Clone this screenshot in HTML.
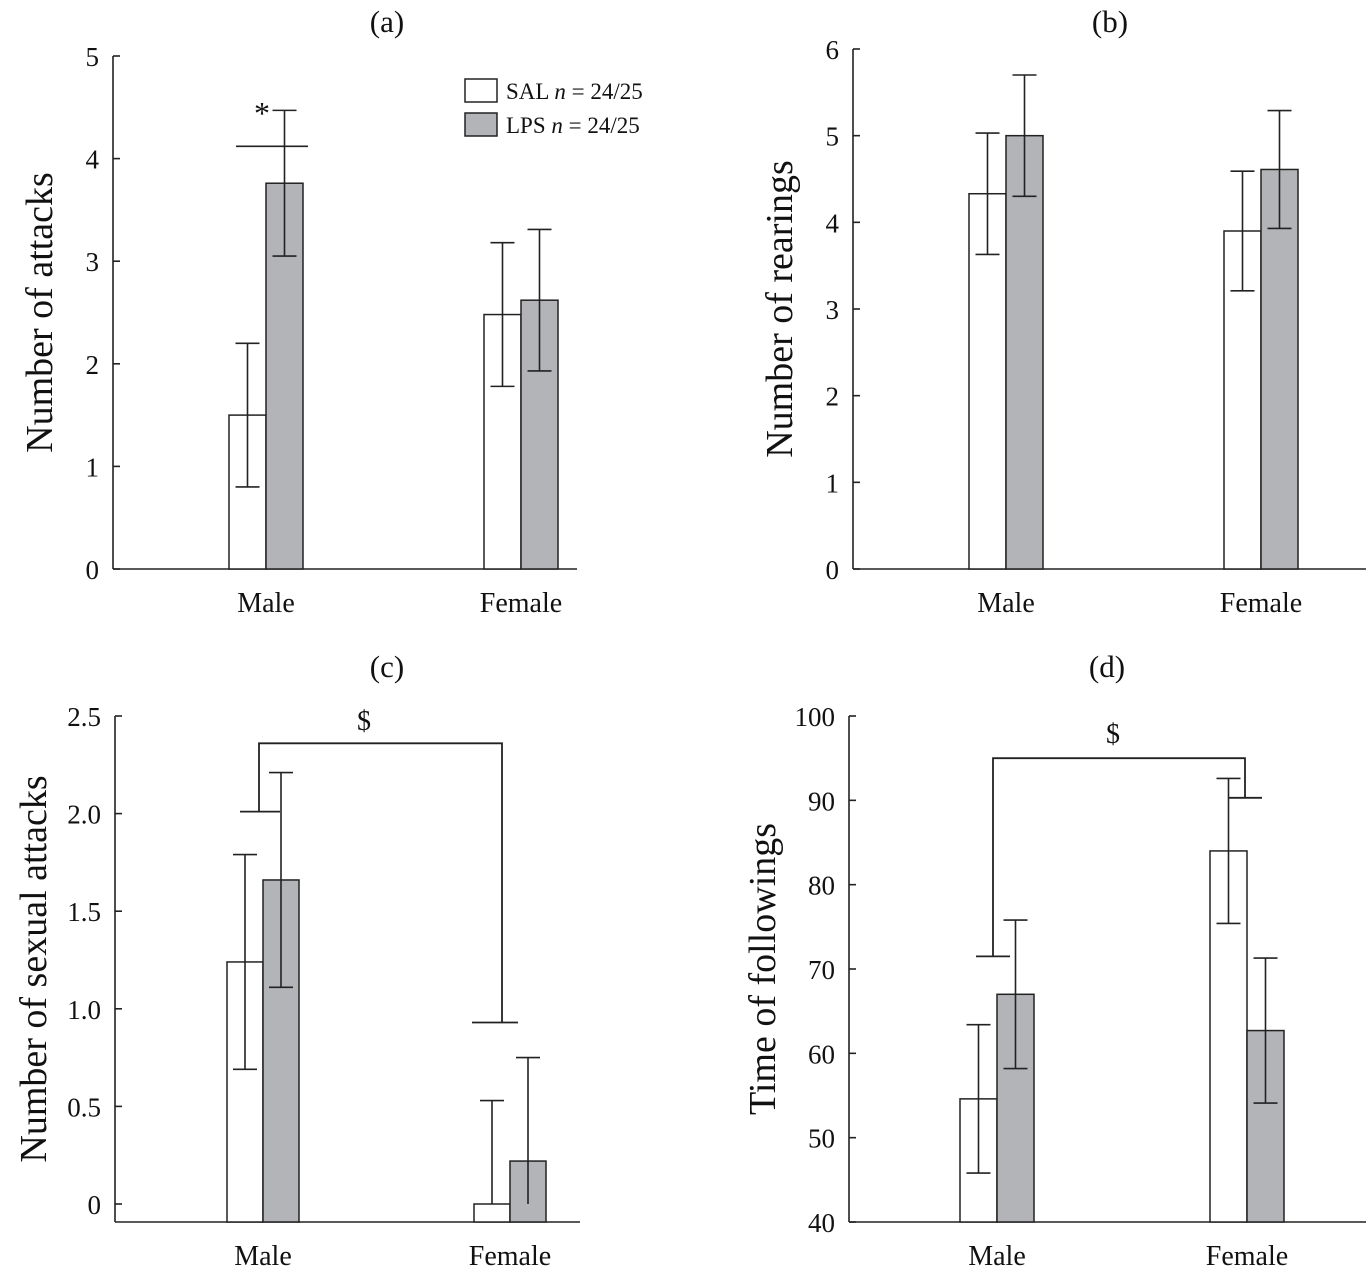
<!DOCTYPE html>
<html><head><meta charset="utf-8"><style>
body{margin:0;background:#fff;}
svg{display:block;font-family:"Liberation Serif",serif;}
</style></head><body>
<svg id="c" width="1366" height="1276" viewBox="0 0 1366 1276"></svg>
<script>
const categories=["Male","Female"];
const aSal=[1.5,2.48], aSalErr=[0.7,0.7], aLps=[3.76,2.62], aLpsErr=[0.71,0.69];
const bSal=[4.33,3.9], bSalErr=[0.7,0.69], bLps=[5.0,4.61], bLpsErr=[0.7,0.68];
const cSal=[1.24,0.0], cSalErr=[0.55,0.53], cLps=[1.66,0.22], cLpsErr=[0.55,0.53];
const dSal=[54.6,84.0], dSalErr=[8.8,8.6], dLps=[67.0,62.7], dLpsErr=[8.8,8.6];
const aTicks=["0","1","2","3","4","5"];
const bTicks=["0","1","2","3","4","5","6"];
const cTicks=["0","0.5","1.0","1.5","2.0","2.5"];
const dTicks=["40","50","60","70","80","90","100"];
const legendLabels=["SAL","LPS"];

const svg=document.getElementById('c');
const NS="http://www.w3.org/2000/svg";
function mk(tag,attrs,name,parent){const e=document.createElementNS(NS,tag);for(const k in attrs)e.setAttribute(k,attrs[k]);


(parent||svg).appendChild(e);return e;}
function txt(x,y,s,size,name,anchor,parent,extra){const t=mk('text',Object.assign({x:x,y:y,'font-size':size,'text-anchor':anchor||'middle',fill:'#111'},extra||{}),name,parent);t.textContent=s;return t;}

function panel(p){
  const g=mk('g',{},'panel-'+p.id);
  const ys=v=>p.y0-(v-p.vmin)*(p.y0-p.y1)/(p.vmax-p.vmin);
  const st={stroke:'#222','stroke-width':1.6,fill:'none'};
  mk('line',Object.assign({x1:p.ax,y1:p.y1,x2:p.ax,y2:p.axisY},st),'y-axis',g);
  mk('line',Object.assign({x1:p.ax,y1:p.axisY,x2:p.axEnd,y2:p.axisY},st),'x-axis',g);
  p.ticks.forEach((t,i)=>{const v=p.vmin+i*(p.vmax-p.vmin)/(p.ticks.length-1);const y=ys(v);
    mk('line',Object.assign({x1:p.ax,y1:y,x2:p.ax+7,y2:y},st),'y-tick',g);
    txt(p.ax-14,y+10,t,27,'y-tick-label','end',g);});
  txt(p.tx,p.ty,p.title,31,'panel-title',null,g);
  txt(0,0,p.ylabel,38,'y-axis-title',null,g,{transform:`translate(${p.ytx},${(p.y1+p.axisY)/2}) rotate(-90)`});
  categories.forEach((c,i)=>{
    const cx=p.cx[i];
    txt(cx,p.axisY+43,c,28,'x-tick-label',null,g);
    [[p.sal,p.salE,'#fff',-1,'sal'],[p.lps,p.lpsE,'#b3b4b8',0,'lps']].forEach(([vals,errs,fill,off,nm])=>{
      const x=cx+off*p.bw; const v=vals[i];
      const top=ys(v), bot=p.axisY;
      mk('rect',{x:x,y:top,width:p.bw,height:bot-top,fill:fill,stroke:'#222','stroke-width':1.5},'bar-'+nm+'-'+c.toLowerCase(),g);
      const mx=x+p.bw/2, e=errs[i];
      mk('line',Object.assign({x1:mx,y1:ys(Math.max(p.vmin,v-e)),x2:mx,y2:ys(v+e)},st),'error-bar',g);
      mk('line',Object.assign({x1:mx-12,y1:ys(v+e),x2:mx+12,y2:ys(v+e)},st),'error-cap',g);
      if(v-e>=p.vmin) mk('line',Object.assign({x1:mx-12,y1:ys(v-e),x2:mx+12,y2:ys(v-e)},st),'error-cap',g);
    });
  });
  return {g,ys};
}
const A=panel({id:'a',title:'(a)',tx:387,ty:32,ylabel:'Number of attacks',ytx:52,ax:113,axEnd:577,y0:569,y1:56,axisY:569,vmin:0,vmax:5,ticks:aTicks,cx:[266,521],bw:37,sal:aSal,salE:aSalErr,lps:aLps,lpsE:aLpsErr});
mk('line',{x1:236,y1:A.ys(4.12),x2:308,y2:A.ys(4.12),stroke:'#222','stroke-width':1.6},'significance-line',A.g);
txt(262,124,'*',32,'significance-star',null,A.g);
[['#fff','SAL'],['#b3b4b8','LPS']].forEach((l,i)=>{
  mk('rect',{x:465,y:79+i*34,width:32,height:23,fill:l[0],stroke:'#222','stroke-width':1.5},'legend-swatch-'+l[1].toLowerCase(),A.g);
  const t=txt(506,99+i*34,'',23,'legend-entry-'+l[1].toLowerCase(),'start',A.g);
  t.innerHTML=legendLabels[i]+' <tspan font-style="italic">n</tspan> = 24/25';
});
panel({id:'b',title:'(b)',tx:1110,ty:32,ylabel:'Number of rearings',ytx:792,ax:853,axEnd:1366,y0:569,y1:49,axisY:569,vmin:0,vmax:6,ticks:bTicks,cx:[1006,1261],bw:37,sal:bSal,salE:bSalErr,lps:bLps,lpsE:bLpsErr});
const C=panel({id:'c',title:'(c)',tx:387,ty:677,ylabel:'Number of sexual attacks',ytx:46,ax:115,axEnd:580,y0:1204,y1:716,axisY:1222,vmin:0,vmax:2.5,ticks:cTicks,cx:[263,510],bw:36,sal:cSal,salE:cSalErr,lps:cLps,lpsE:cLpsErr});
mk('path',{d:`M240 ${C.ys(2.01)} H280 M259 ${C.ys(2.01)} V${C.ys(2.36)} H502 V${C.ys(0.93)} M472 ${C.ys(0.93)} H518`,stroke:'#222','stroke-width':1.8,fill:'none'},'significance-bracket',C.g);
txt(364,730,'$',28,'significance-dollar',null,C.g);
const D=panel({id:'d',title:'(d)',tx:1107,ty:677,ylabel:'Time of followings',ytx:775,ax:849,axEnd:1366,y0:1222,y1:716,axisY:1222,vmin:40,vmax:100,ticks:dTicks,cx:[997,1247],bw:37,sal:dSal,salE:dSalErr,lps:dLps,lpsE:dLpsErr});
mk('path',{d:`M976 ${D.ys(71.5)} H1010 M993 ${D.ys(71.5)} V${D.ys(95)} H1245 V${D.ys(90.3)} M1228 ${D.ys(90.3)} H1262`,stroke:'#222','stroke-width':1.8,fill:'none'},'significance-bracket',D.g);
txt(1113,743,'$',28,'significance-dollar',null,D.g);
</script>
</body></html>
